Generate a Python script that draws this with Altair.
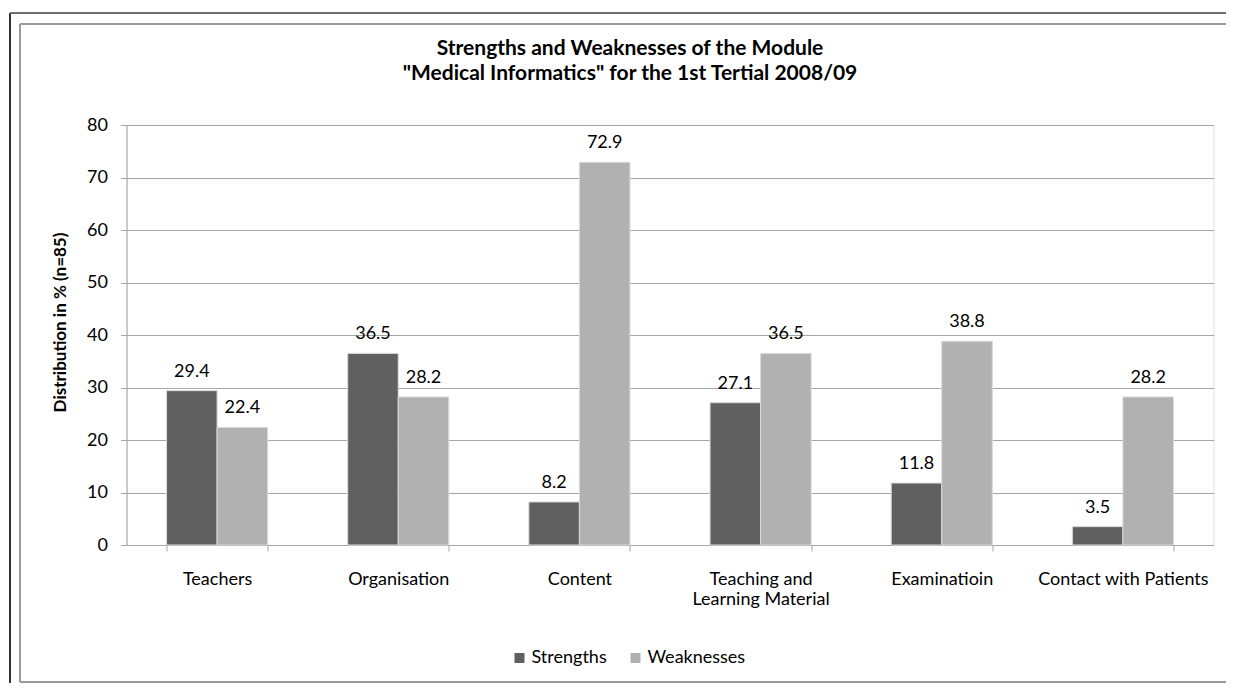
import altair as alt
import pandas as pd

categories = ["Teachers", "Organisation", "Content",
              "Teaching and Learning Material", "Examinatioin",
              "Contact with Patients"]
series = ["Strengths", "Weaknesses"]
strengths = [29.4, 36.5, 8.2, 27.1, 11.8, 3.5]
weaknesses = [22.4, 28.2, 72.9, 36.5, 38.8, 28.2]
y_ticks = [0, 10, 20, 30, 40, 50, 60, 70, 80]

rows = []
for c, s, w in zip(categories, strengths, weaknesses):
    rows.append({"category": c, "series": "Strengths", "value": s})
    rows.append({"category": c, "series": "Weaknesses", "value": w})
df = pd.DataFrame(rows)

FONT = "Lato"
FS = 18
GRID = "#a6a6a6"

x_enc = alt.X(
    "category:N", sort=categories, title=None,
    scale=alt.Scale(paddingInner=0.442, paddingOuter=0.221),
    axis=alt.Axis(
        labelAngle=0, labelFontSize=FS, labelFont=FONT, labelColor="black",
        labelPadding=19, labelLineHeight=20, tickSize=6, tickColor=GRID,
        domainColor=GRID, tickBand="extent", grid=False, labelLimit=300,
        labelExpr="datum.value == 'Teaching and Learning Material' ? ['Teaching and', 'Learning Material'] : datum.value",
    ),
)
xoff_enc = alt.XOffset("series:N", sort=series,
                       scale=alt.Scale(paddingInner=0, paddingOuter=0))
y_enc = alt.Y(
    "value:Q", title="Distribution in % (n=85)",
    scale=alt.Scale(domain=[0, 80], nice=False),
    axis=alt.Axis(
        values=y_ticks, labelFontSize=FS, labelFont=FONT, labelColor="black",
        labelPadding=13, tickSize=6, tickColor=GRID, domainColor=GRID,
        gridColor=GRID, titleFont=FONT, titleFontSize=17, titleFontWeight="bold",
        titleColor="black", titleX=-66, titleY=197, titleAngle=-90,
        titleBaseline="middle", titleAlign="center",
    ),
)

bars = alt.Chart(df).mark_bar(stroke="#dadada", strokeWidth=1).encode(
    x=x_enc, xOffset=xoff_enc, y=y_enc,
    color=alt.Color(
        "series:N", sort=series, title=None,
        scale=alt.Scale(domain=series, range=["#606060", "#b1b1b1"]),
        legend=alt.Legend(
            orient="none", direction="horizontal", legendX=384, legendY=524,
            symbolType="square", symbolSize=100, symbolStrokeWidth=0,
            labelFont=FONT, labelFontSize=FS, labelColor="black",
            labelOffset=3, columnPadding=19, padding=0,
        ),
    ),
)

labels = alt.Chart(df).mark_text(
    font=FONT, fontSize=FS, color="black", dy=-14, baseline="alphabetic"
).encode(
    x=alt.X("category:N", sort=categories), xOffset=xoff_enc,
    y="value:Q", text=alt.Text("value:Q", format=".1f"),
)

# decorative frame lines (outer and inner border)
outer_v = alt.Chart(df).mark_rule(color="#333333", strokeWidth=2).encode(
    x=alt.value(-116.5), y=alt.value(-112), y2=alt.value(600))
outer_h = alt.Chart(df).mark_rule(color="#6e6e6e", strokeWidth=2).encode(
    x=alt.value(-116.5), x2=alt.value(1130), y=alt.value(-112))
inner_v = alt.Chart(df).mark_rule(color="#9a9a9a", strokeWidth=2).encode(
    x=alt.value(-106.5), y=alt.value(-101), y2=alt.value(557))
inner_h1 = alt.Chart(df).mark_rule(color="#9a9a9a", strokeWidth=2).encode(
    x=alt.value(-106.5), x2=alt.value(1130), y=alt.value(-101))
inner_h2 = alt.Chart(df).mark_rule(color="#9a9a9a", strokeWidth=2).encode(
    x=alt.value(-106.5), x2=alt.value(1130), y=alt.value(557))

chart = alt.layer(
    bars, labels, outer_v, outer_h, inner_v, inner_h1, inner_h2
).properties(
    width=1087, height=420,
    autosize=alt.AutoSizeParams(type="none"),
    padding={"left": 118.5, "top": 117, "right": 12.5, "bottom": 138},
    title=alt.TitleParams(
        text=["Strengths and Weaknesses of the Module",
              "\"Medical Informatics\" for the 1st Tertial 2008/09"],
        font=FONT, fontSize=21, fontWeight="bold", color="black",
        anchor="middle", frame="group", baseline="alphabetic",
        dx=-40, dy=89, offset=0, lineHeight=25,
    ),
).configure_view(stroke=None).configure(background="white")

chart.save("out.html", embed_options={"renderer": "svg", "actions": False})
